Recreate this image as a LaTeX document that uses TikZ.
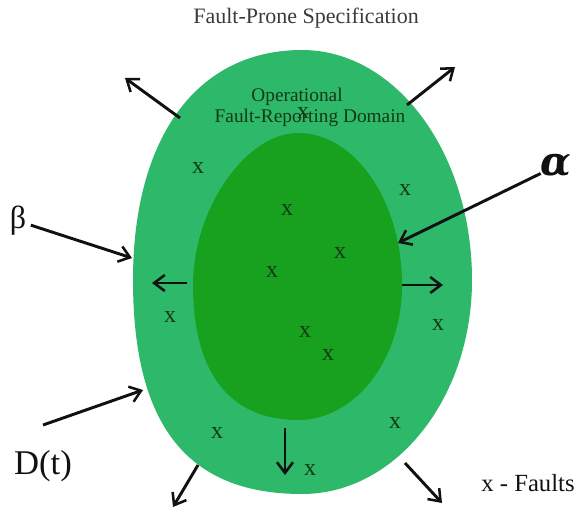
\documentclass[tikz,border=0pt]{standalone}
\usepackage{fontspec}
\setmainfont{Liberation Serif}
\newfontfamily\greekfont{DejaVu Serif}
\usepackage{tikz}
\usetikzlibrary{arrows.meta}
\definecolor{Spec}{HTML}{2EB86A}
\definecolor{Domain}{HTML}{18A11E}
\definecolor{Ink}{HTML}{111111}
\definecolor{Mark}{HTML}{123A18}
\definecolor{Mute}{HTML}{3A3A3A}

\begin{document}
\begin{tikzpicture}[x=0.75pt,y=-0.75pt,
  flow/.style={line width=2.2pt,Ink,-{Straight Barb[length=8pt,width=12pt,line width=1.9pt]}},
  fault/.style={font=\fontsize{18}{18}\selectfont,Mark,inner sep=0pt}]
  \useasboundingbox (0,0) rectangle (581,511);
  \fill[Spec] (472,280) .. controls (472,398) and (396,494) .. (302,494)
    .. controls (187,494) and (133,425) .. (133,280)
    .. controls (133,137) and (197,50) .. (302,50)
    .. controls (396,50) and (472,153) .. (472,280) -- cycle;
  \fill[Domain] (402,285) .. controls (402,360) and (355,420) .. (298,420)
    .. controls (230,420) and (193,373) .. (193,285)
    .. controls (193,209) and (246,133) .. (298,133)
    .. controls (355,133) and (402,201) .. (402,285) -- cycle;
  \node[font=\fontsize{16.5}{18}\selectfont,Mute] (title) at (306,18) {Fault-Prone Specification};
  \node[font=\fontsize{14.5}{16}\selectfont,Mark] (oper) at (297,97) {Operational};
  \node[font=\fontsize{14.5}{16}\selectfont,Mark] (frd) at (310,118) {Fault-Reporting Domain};
  \foreach \n/\xa/\ya in {1/303/113, 2/198/168, 3/405/190, 4/287/210, 5/340/253, 6/272/272,
    7/170/317, 8/438/325, 9/305/332, 10/328/355, 11/217/433, 12/395/423, 13/310/470}
    \node[fault] (f\n) at (\xa,\ya) {x};
  \node[font=\fontsize{24}{26}\selectfont,Ink] (beta) at (18,221) {β};
  \node[font=\greekfont\fontsize{30}{30}\selectfont\bfseries\itshape,Ink] (alpha) at (556,166) {α};
  \node[font=\fontsize{26}{28}\selectfont,Ink] (dt) at (43,466) {D(t)};
  \node[font=\fontsize{18.5}{20}\selectfont,Ink] (faults) at (528,483) {x - Faults};
  \foreach \n/\xa/\ya/\xb/\yb in {1/180/118/125/78, 2/407/105/455/67, 3/187/283/152/283,
    4/402/285/443/285, 5/285/428/285/475, 6/198/465/173/507, 7/405/463/442/503,
    8/43/425/143/390} {
    \coordinate (s\n) at (\xa,\ya);
    \coordinate (e\n) at (\xb,\yb);
    \draw[flow] (s\n) -- (e\n);
  }
  \coordinate (betaend) at (132,258);
  \coordinate (alphaend) at (398,243);
  \draw[flow] (beta) -- (betaend);
  \draw[flow,shorten <=-4pt] (alpha) -- (alphaend);
\end{tikzpicture}
\end{document}
